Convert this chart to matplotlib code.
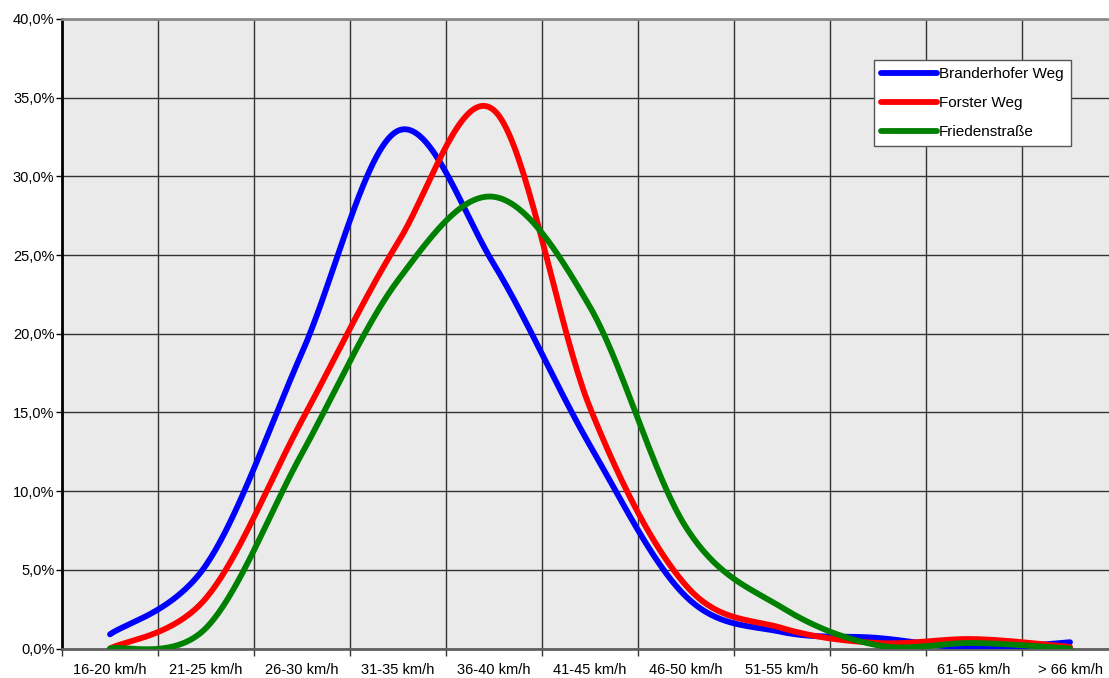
import numpy as np
import matplotlib
matplotlib.use("Agg")
import matplotlib.pyplot as plt
from matplotlib.ticker import FixedLocator, FuncFormatter

plt.rcParams['font.family'] = ['Liberation Sans', 'DejaVu Sans']

categories = ["16-20 km/h", "21-25 km/h", "26-30 km/h", "31-35 km/h", "36-40 km/h",
              "41-45 km/h", "46-50 km/h", "51-55 km/h", "56-60 km/h", "61-65 km/h", "> 66 km/h"]
branderhofer = [0.9, 5.3, 18.8, 32.9, 24.4, 12.9, 3.3, 1.05, 0.67, 0.02, 0.4]
forster = [0.0, 3.2, 14.5, 25.8, 34.2, 15.3, 4.0, 1.3, 0.35, 0.6, 0.1]
frieden = [0.0, 1.3, 12.4, 23.4, 28.7, 21.7, 7.7, 2.6, 0.2, 0.35, 0.0]
series_names = ["Branderhofer Weg", "Forster Weg", "Friedenstraße"]
series_colors = ["#0000FF", "#FF0000", "#008000"]


def smooth(y, n=40):
    """Excel-like smoothing: Catmull-Rom Bezier through the points."""
    y = np.asarray(y, float)
    x = np.arange(len(y), dtype=float)
    P = np.column_stack([x, y])
    xs, ys = [], []
    for i in range(len(P) - 1):
        p0 = P[i - 1] if i > 0 else P[i]
        p1 = P[i]
        p2 = P[i + 1]
        p3 = P[i + 2] if i + 2 < len(P) else P[i + 1]
        c1 = p1 + (p2 - p0) / 6.0
        c2 = p2 - (p3 - p1) / 6.0
        t = np.linspace(0, 1, n)[:, None]
        B = ((1 - t) ** 3) * p1 + 3 * ((1 - t) ** 2) * t * c1 + 3 * (1 - t) * t ** 2 * c2 + t ** 3 * p2
        xs.append(B[:, 0]); ys.append(B[:, 1])
    return np.concatenate(xs), np.concatenate(ys)


W, H = 1109, 678
fig = plt.figure(figsize=(W / 100, H / 100), dpi=100)
left, right, top, bottom = 62, 1109, 19, 648.5
ax = fig.add_axes([left / W, (H - bottom) / H, (right - left) / W, (bottom - top) / H])
ax.set_facecolor("#EAEAEA")

for vals, name, col in zip([branderhofer, forster, frieden], series_names, series_colors):
    sx, sy = smooth(vals)
    ax.plot(sx, sy, color=col, lw=4.2, solid_capstyle='round', label=name, zorder=3)

spacing = 96.0
ax.set_xlim(-0.5, (right - left) / spacing - 0.5)
ax.set_ylim(0, 40)

ax.xaxis.set_major_locator(FixedLocator(np.arange(-0.5, len(categories), 1.0)))
ax.xaxis.set_minor_locator(FixedLocator(np.arange(len(categories))))
ax.xaxis.set_major_formatter(FuncFormatter(lambda v, p: ""))
ax.set_xticklabels(categories, minor=True)
ax.tick_params(axis='x', which='minor', length=0, labelsize=10.5, pad=10.5)
ax.tick_params(axis='x', which='major', length=5, width=1, color="#333333")

ax.yaxis.set_major_locator(FixedLocator(np.arange(0, 40.1, 5)))
ax.yaxis.set_major_formatter(FuncFormatter(lambda v, p: f"{v:.1f}".replace(".", ",") + "%"))
ax.tick_params(axis='y', length=4, width=1, labelsize=10.5, pad=1.5, color="#000000")

ax.grid(True, which='major', color="#333333", lw=1.0, zorder=1)
ax.set_axisbelow(True)

ax.spines['left'].set_color("#000000")
ax.spines['left'].set_linewidth(2)
ax.spines['bottom'].set_color("#606060")
ax.spines['bottom'].set_linewidth(2)
ax.spines['top'].set_color("#8a8a8a")
ax.spines['top'].set_linewidth(2)
ax.spines['right'].set_visible(False)

leg = ax.legend(loc='upper left', bbox_to_anchor=(874 / W, 1 - 60 / H),
                bbox_transform=fig.transFigure, fontsize=11, frameon=True,
                fancybox=False, edgecolor="#555555", facecolor="white", framealpha=1,
                handlelength=3.7, handletextpad=0.12, borderpad=0.45, labelspacing=1.0,
                borderaxespad=0)
leg.get_frame().set_linewidth(1.0)
for line in leg.get_lines():
    line.set_linewidth(4.2)

fig.savefig("out.png", dpi=100)
